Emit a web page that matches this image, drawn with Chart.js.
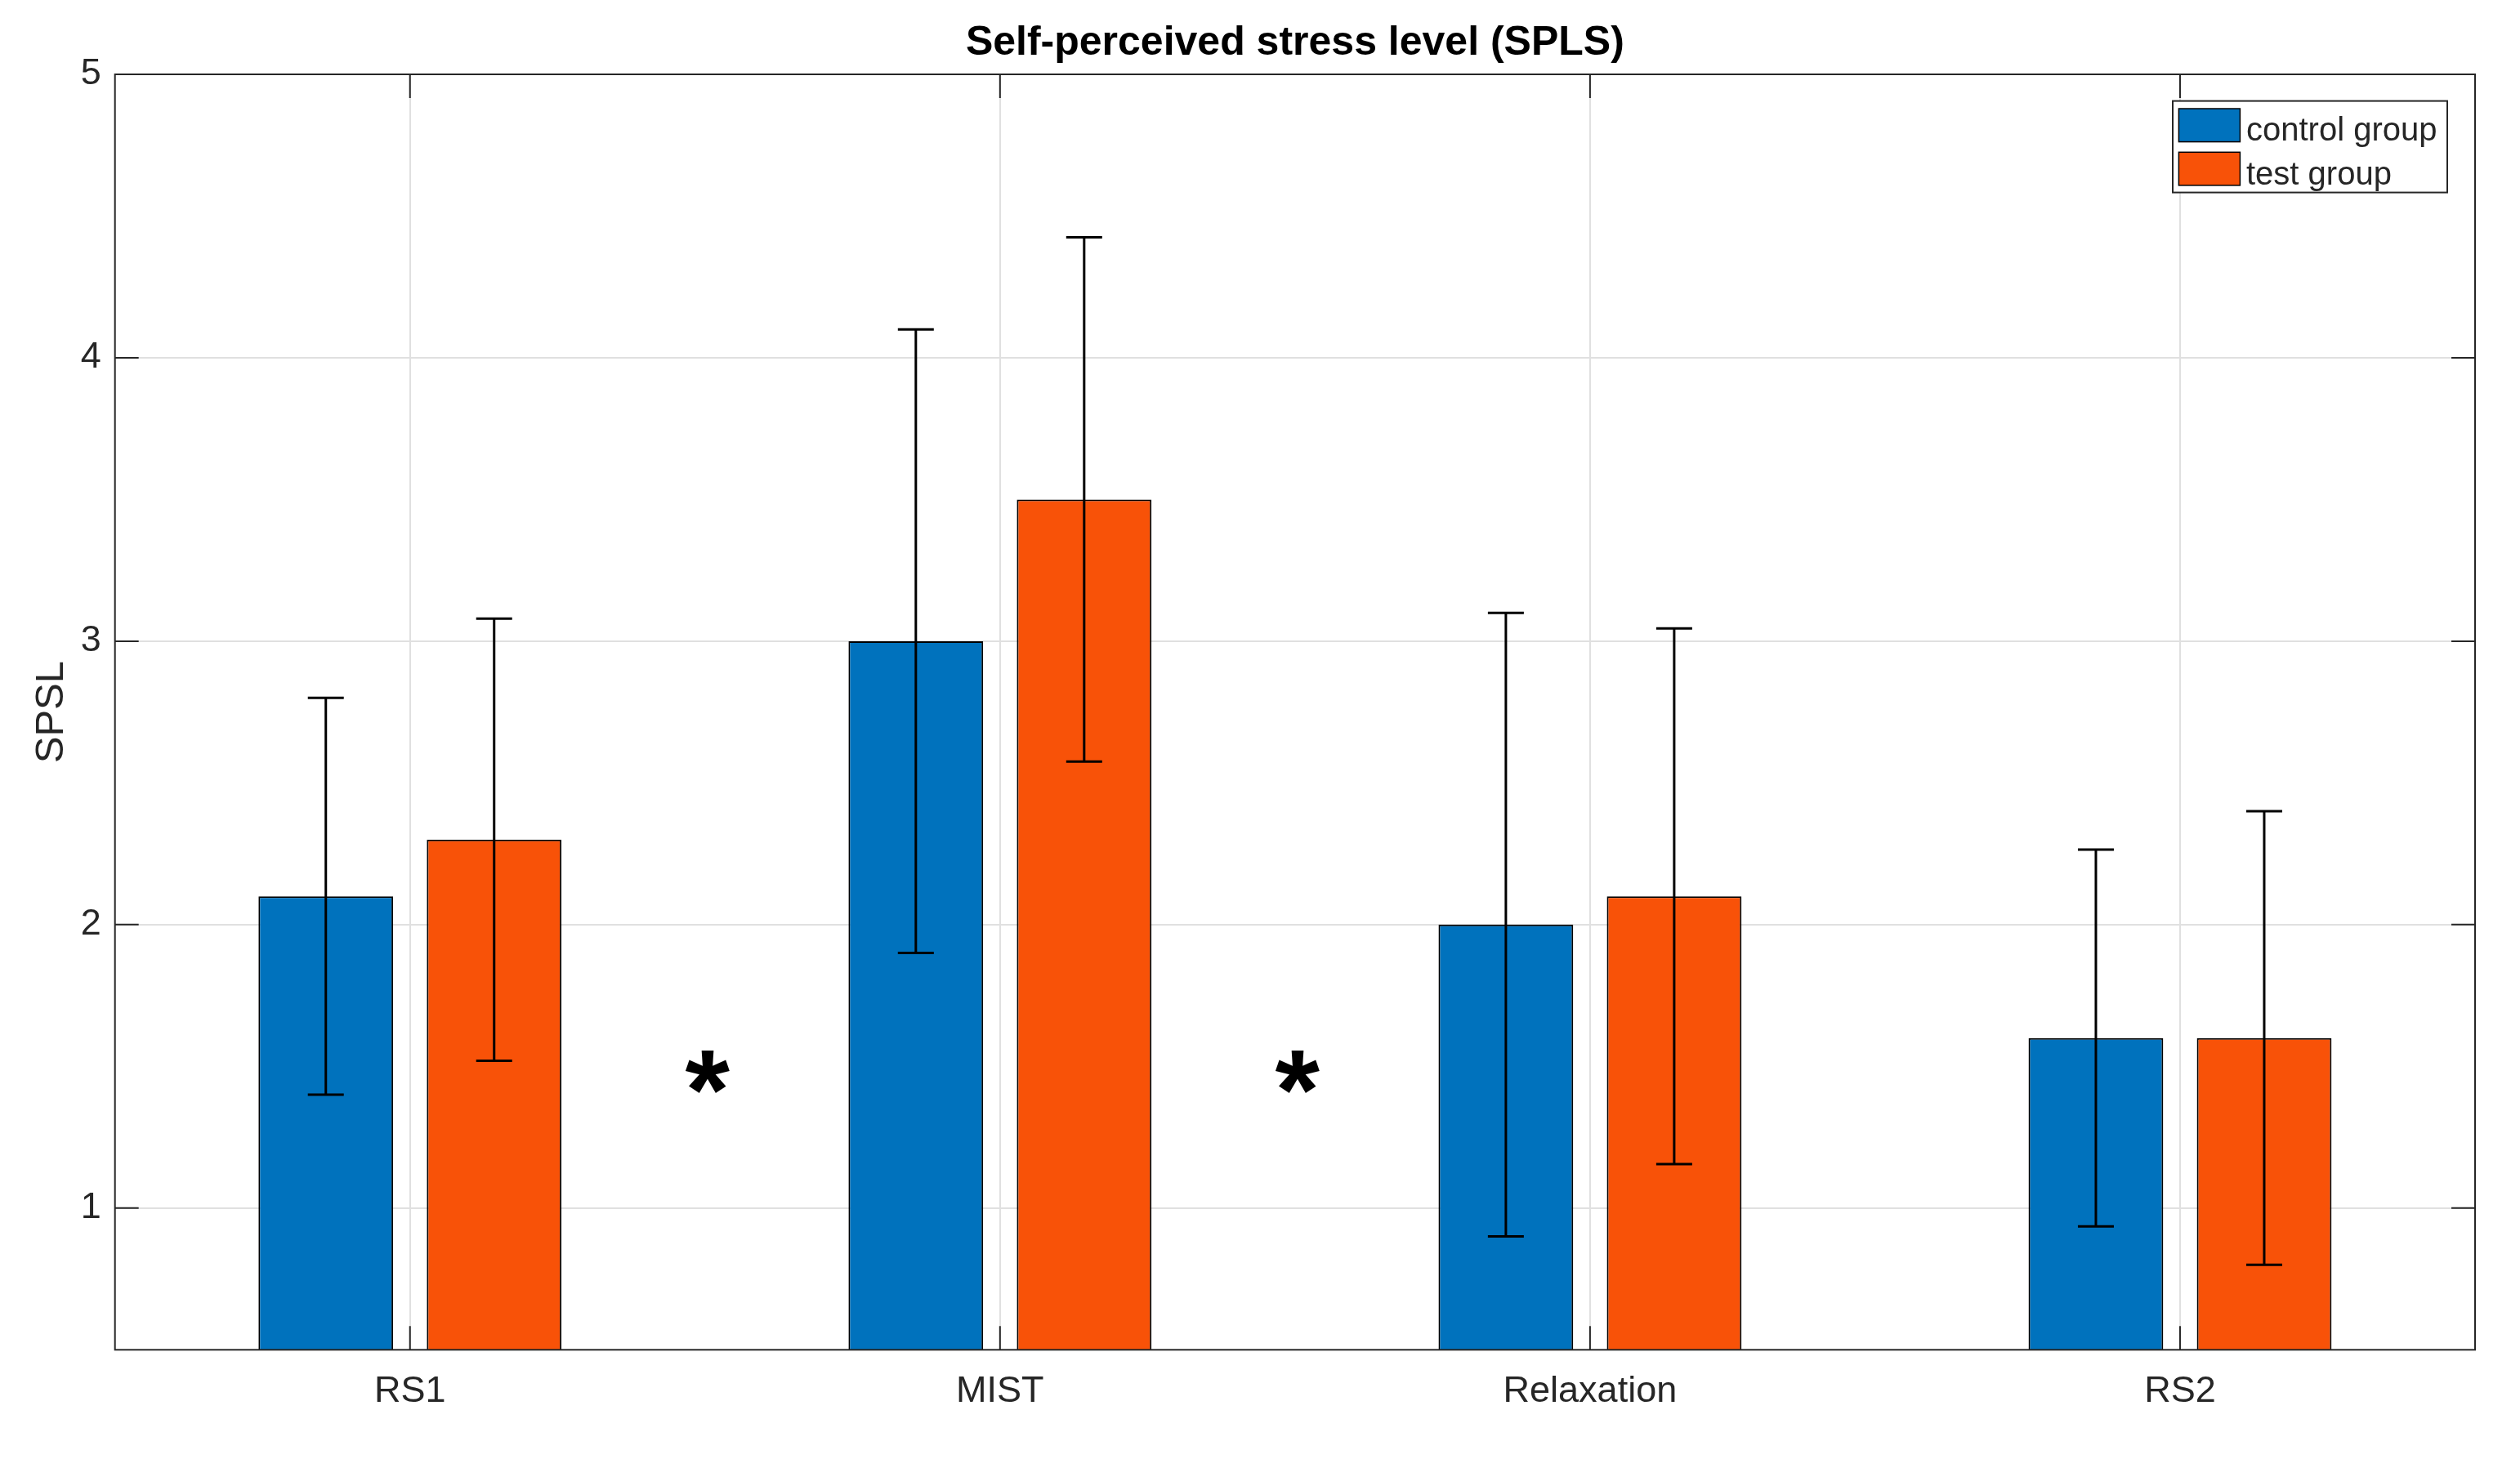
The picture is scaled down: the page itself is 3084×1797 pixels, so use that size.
<!DOCTYPE html>
<html><head><meta charset="utf-8">
<script src="https://cdn.jsdelivr.net/npm/chart.js@4.4.1/dist/chart.umd.min.js"></script>
<style>html,body{margin:0;padding:0;background:#fff;overflow:hidden}#wrap{width:3084px;height:1797px;position:relative}</style>
</head><body><div id="wrap"><canvas id="c"></canvas></div>
<script>
// ---- data ----
const categories = ['RS1', 'MIST', 'Relaxation', 'RS2'];
const seriesLabels = ['control group', 'test group'];
const controlMean = [2.1, 3.0, 2.0, 1.6];
const controlErr = [0.70, 1.10, 1.10, 0.665];
const testMean = [2.3, 3.5, 2.1, 1.6];
const testErr = [0.78, 0.925, 0.945, 0.80];
const yTicks = [1, 2, 3, 4, 5];
const sigMarks = [0.5, 1.5];   // category-index positions of the significance stars
const sigLevel = 1.48;         // y value of the stars

const FONT = "'Liberation Sans', Arial, Helvetica, sans-serif";
const seriesColors = ['#0072BD', '#F85208'];
const errs = [controlErr, testErr];

const extras = {
  id: 'extras',
  afterDatasetsDraw(chart) {
    const {ctx, chartArea: a, scales: {x, y}} = chart;
    ctx.save();
    // error bars
    ctx.strokeStyle = '#000'; ctx.lineWidth = 3; ctx.lineCap = 'butt';
    errs.forEach((e, di) => {
      const meta = chart.getDatasetMeta(di);
      meta.data.forEach((bar, i) => {
        const v = chart.data.datasets[di].data[i];
        const yt = y.getPixelForValue(v + e[i]);
        const yb = y.getPixelForValue(v - e[i]);
        const cx = bar.x, cw = 22;
        ctx.beginPath();
        ctx.moveTo(cx, yt); ctx.lineTo(cx, yb);
        ctx.moveTo(cx - cw, yt); ctx.lineTo(cx + cw, yt);
        ctx.moveTo(cx - cw, yb); ctx.lineTo(cx + cw, yb);
        ctx.stroke();
      });
    });
    // significance stars
    ctx.fillStyle = '#000';
    ctx.font = 'bold 140px ' + FONT;
    ctx.textAlign = 'center'; ctx.textBaseline = 'alphabetic';
    sigMarks.forEach(p => {
      const px = x.getPixelForValue(p), py = y.getPixelForValue(sigLevel);
      const m = ctx.measureText('*');
      const off = (m.actualBoundingBoxAscent - m.actualBoundingBoxDescent) / 2;
      ctx.fillText('*', px + 3, py + off);
    });
    // axes box
    ctx.strokeStyle = '#262626'; ctx.lineWidth = 2;
    ctx.strokeRect(a.left, a.top, a.right - a.left, a.bottom - a.top);
    // inner tick marks
    const tl = 29;
    ctx.beginPath();
    y.ticks.forEach(t => {
      const py = y.getPixelForValue(t.value);
      ctx.moveTo(a.left, py); ctx.lineTo(a.left + tl, py);
      ctx.moveTo(a.right, py); ctx.lineTo(a.right - tl, py);
    });
    x.ticks.forEach((t, i) => {
      const px = x.getPixelForTick(i);
      ctx.moveTo(px, a.bottom); ctx.lineTo(px, a.bottom - tl);
      ctx.moveTo(px, a.top); ctx.lineTo(px, a.top + tl);
    });
    ctx.stroke();
    // legend
    const bw = 336, bh = 112;
    const bx = a.right - 34 - bw, by = a.top + 32.6;
    ctx.fillStyle = '#fff';
    ctx.fillRect(bx, by, bw, bh);
    ctx.strokeStyle = '#262626'; ctx.lineWidth = 2;
    ctx.strokeRect(bx, by, bw, bh);
    ctx.font = '40px ' + FONT;
    ctx.textAlign = 'left'; ctx.textBaseline = 'middle';
    chart.data.datasets.forEach((ds, i) => {
      const sy = by + 9.4 + i * 53.3;
      ctx.fillStyle = ds.backgroundColor;
      ctx.fillRect(bx + 7.4, sy, 75, 40.6);
      ctx.strokeStyle = '#000'; ctx.lineWidth = 1.5;
      ctx.strokeRect(bx + 7.4, sy, 75, 40.6);
      ctx.fillStyle = '#262626';
      ctx.fillText(ds.label, bx + 90, sy + 20.3 + 8);
    });
    ctx.restore();
  }
};

new Chart(document.getElementById('c'), {
  type: 'bar',
  data: {
    labels: categories,
    datasets: [
      {label: seriesLabels[0], data: controlMean, backgroundColor: seriesColors[0], borderColor: '#000', borderWidth: 2, categoryPercentage: 0.5706, barPercentage: 0.8},
      {label: seriesLabels[1], data: testMean, backgroundColor: seriesColors[1], borderColor: '#000', borderWidth: 2, categoryPercentage: 0.5706, barPercentage: 0.8}
    ]
  },
  options: {
    responsive: true, maintainAspectRatio: false, animation: false, devicePixelRatio: 1,
    layout: {padding: {left: 0, right: 55, top: 0, bottom: 0}},
    plugins: {
      legend: {display: false},
      tooltip: {enabled: false},
      title: {display: true, fullSize: false, text: 'Self-perceived stress level (SPLS)', color: '#000',
        font: {family: FONT, size: 50, weight: 'bold'}, padding: {top: 23, bottom: 8}}
    },
    scales: {
      x: {
        grid: {offset: false, color: '#e0e0e0', lineWidth: 2, drawTicks: false},
        border: {display: false},
        ticks: {color: '#262626', font: {family: FONT, size: 45}, padding: 24},
        afterFit(s) { s.height = 144.7; }
      },
      y: {
        min: 0.5, max: 5,
        afterBuildTicks(s) { s.ticks = yTicks.map(v => ({value: v})); },
        grid: {color: '#e0e0e0', lineWidth: 2, drawTicks: false},
        border: {display: false},
        ticks: {color: '#262626', font: {family: FONT, size: 45}, padding: 17},
        title: {display: true, text: 'SPSL', color: '#262626', font: {family: FONT, size: 49}, padding: {top: 34, bottom: 0}},
        afterFit(s) { s.width = 140.7; }
      }
    }
  },
  plugins: [extras]
});
</script></body></html>
